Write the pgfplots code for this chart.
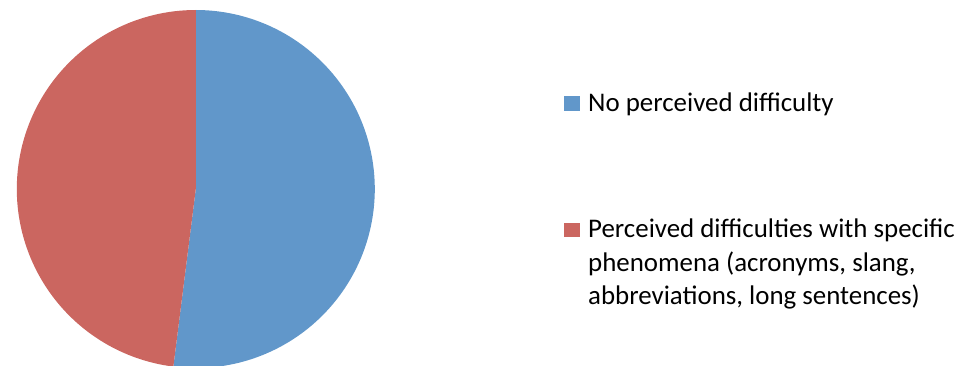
\documentclass[border=0pt]{standalone}
\usepackage{pgfplots}
\pgfplotsset{compat=1.18}
\usepackage{fontspec}
\setmainfont{Carlito}
\definecolor{pieblue}{HTML}{6197CA}
\definecolor{piered}{HTML}{CB6660}
% shares of the pie, in per cent
\def\valA{52}
\def\valB{48}
\begin{document}
\begin{tikzpicture}
\useasboundingbox (0bp,0bp) rectangle (967bp,366bp);
\pgfmathsetmacro{\angA}{90-\valA*3.6}
\pgfmathsetmacro{\angB}{\angA-\valB*3.6}
\begin{axis}[
  at={(195.8bp,177bp)}, anchor=center,
  scale only axis, width=358bp, height=358bp,
  xmin=-1, xmax=1, ymin=-1, ymax=1,
  hide axis, clip=false,
]
\addplot[fill=pieblue, draw=none, domain=90:\angA, samples=200]
  ({cos(x)},{sin(x)}) -- (axis cs:0,0) -- cycle;
\addplot[fill=piered, draw=none, domain=\angA:\angB, samples=200]
  ({cos(x)},{sin(x)}) -- (axis cs:0,0) -- cycle;
\end{axis}
\fill[pieblue] (564bp,255.3bp) rectangle (580bp,270.3bp);
\fill[piered] (564bp,129.3bp) rectangle (580bp,143.3bp);
\begin{scope}[every node/.style={anchor=base west, inner sep=0pt, font=\fontsize{27}{33}\selectfont}]
\node at (588bp,254.3bp) {No perceived difficulty};
\node at (588bp,128bp) {Perceived difficulties with specific};
\node at (588bp,94.5bp) {phenomena (acronyms, slang,};
\node at (588bp,61bp) {abbreviations, long sentences)};
\end{scope}
\end{tikzpicture}
\end{document}
